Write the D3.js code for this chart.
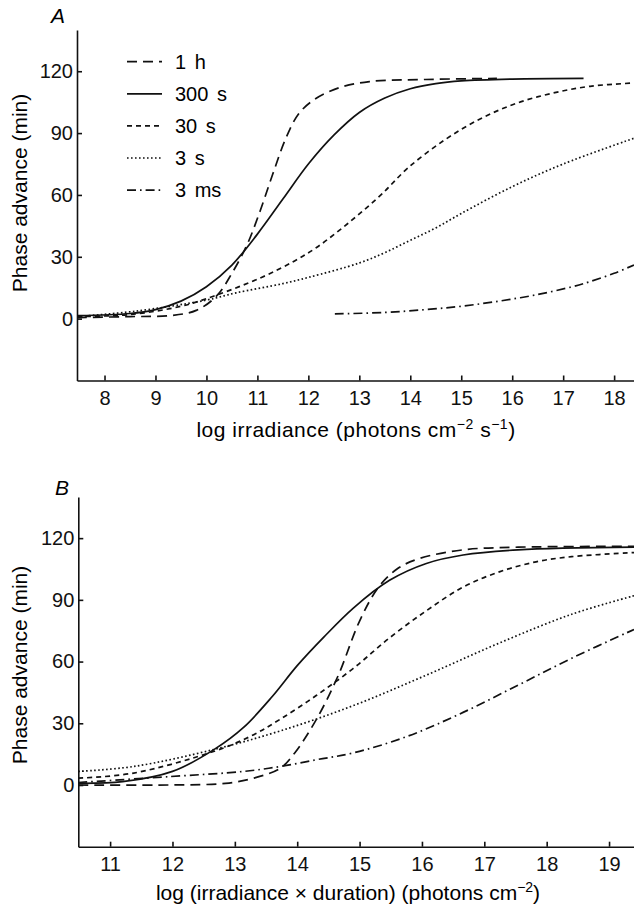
<!DOCTYPE html>
<html>
<head>
<meta charset="utf-8">
<script src="https://cdn.jsdelivr.net/npm/d3@7"></script>
<style>
  body { margin: 0; background: #fff; }
  svg { display: block; font-family: "Liberation Sans", Arial, sans-serif; }
  .axis text { font-size: 20px; fill: #111; }
  .axis path, .axis line { stroke: #111; stroke-width: 1.6; }
  .curve { fill: none; stroke: #111; stroke-width: 1.7; }
</style>
</head>
<body>
<div id="chart"></div>
<script>
// Panel A: phase advance vs log irradiance, [log irradiance, minutes]
const a1h = [[7.46, 0.5], [8.5, 1], [9.3, 1.5], [9.8, 4], [10.2, 11], [10.5, 22], [10.8, 36], [11.05, 52], [11.3, 70], [11.55, 87], [11.8, 99], [12.1, 106], [12.6, 112], [13.2, 115], [14.3, 116], [15.7, 116.5]];
const a300s = [[7.46, 1.5], [8.5, 2.5], [9, 4.4], [9.5, 8.5], [10, 15.5], [10.5, 26], [11, 41], [11.5, 58], [12, 75], [12.5, 89], [13, 100], [13.5, 107], [14, 111.5], [14.5, 114], [15, 115.3], [16, 116.2], [17.4, 116.5]];
const a30s = [[7.46, 1], [8.5, 2], [9.5, 6], [10.15, 11], [11.08, 20], [11.73, 28], [12.16, 34.5], [12.6, 42.7], [13, 50.8], [13.45, 60.6], [13.95, 73], [14.67, 86.6], [15.38, 97], [16.1, 104.6], [16.8, 109.4], [17.53, 112.7], [18.39, 114.3]];
const a3s = [[7.46, 1], [8.6, 3.6], [10, 9], [10.58, 12.5], [11.5, 17], [12, 20], [13, 27], [13.5, 32], [14, 38], [14.5, 44], [15, 51], [16, 64], [17, 75], [18.39, 87.5]];
const a3ms = [[12.52, 2.3], [13.5, 3], [14.3, 4.4], [15, 6], [15.74, 8.5], [16.46, 11.5], [17.18, 15.5], [17.53, 18], [18, 22], [18.39, 26]];

// Panel B: phase advance vs log (irradiance x duration)
const b1h = [[10.49, 0], [11.97, 0], [12.85, 0.8], [13.3, 3.3], [13.73, 8.2], [13.96, 15.6], [14.31, 32], [14.66, 53.4], [15, 79.7], [15.3, 96], [15.6, 105], [15.95, 110], [16.66, 114.3], [17.54, 115.6], [19.4, 116]];
const b300s = [[10.49, 0.8], [11.2, 1.6], [12, 6.6], [12.67, 17.3], [13.14, 28], [13.6, 43], [14, 58], [14.43, 72], [14.9, 86], [15.48, 99.5], [16.07, 107.7], [16.66, 111.8], [17.54, 114.3], [19.4, 115.6]];
const b30s = [[10.49, 3.3], [11.38, 5.8], [12.67, 16.4], [13.26, 23.8], [13.73, 32], [14.31, 43.6], [14.9, 56.7], [15.48, 71.5], [16.07, 84.7], [16.66, 96.2], [17.24, 103.6], [17.83, 108.5], [18.4, 111], [19.4, 113]];
const b3s = [[10.49, 6.6], [11.38, 9], [12.67, 17.3], [13.73, 26.3], [14.9, 38.6], [16.07, 53.4], [17.24, 69], [18.4, 83], [19.4, 92]];
const b3ms = [[10.49, 1.2], [11.97, 4.1], [13.14, 6.6], [13.73, 9], [14.31, 12.3], [14.9, 15.6], [15.78, 23.8], [16.66, 35.3], [17.54, 48.5], [18.4, 61.6], [19.4, 75.6]];

const legendLabels = ["1 h", "300 s", "30 s", "3 s", "3 ms"];
const yTicks = [0, 30, 60, 90, 120];
const xTicksA = [8, 9, 10, 11, 12, 13, 14, 15, 16, 17, 18];
const xTicksB = [11, 12, 13, 14, 15, 16, 17, 18, 19];

const dashes = ["10,6", null, "5,4", "1.6,2.4", "9,4,1.6,4"];

const svg = d3.select("#chart").append("svg").attr("width", 634).attr("height", 907);

function drawPanel(opts) {
  const x = d3.scaleLinear().domain(opts.xDomain).range(opts.xRange);
  const y = d3.scaleLinear().domain([-30, 140]).range(opts.yRange);
  const g = svg.append("g");

  g.append("g")
    .attr("class", "axis")
    .attr("transform", `translate(0,${opts.yRange[0]})`)
    .call(d3.axisBottom(x).tickValues(opts.xTicks).tickFormat(d3.format("d")).tickSizeInner(-5).tickSizeOuter(0).tickPadding(10));

  g.append("g")
    .attr("class", "axis")
    .attr("transform", `translate(${opts.xRange[0]},0)`)
    .call(d3.axisLeft(y).tickValues(yTicks).tickSizeInner(-5).tickSizeOuter(0).tickPadding(4));

  const line = d3.line()
    .x((d) => x(d[0]))
    .y((d) => y(d[1]))
    .curve(d3.curveCatmullRom.alpha(0.5));

  opts.series.forEach((s, i) => {
    g.append("path")
      .datum(s)
      .attr("class", "curve")
      .attr("d", line)
      .attr("stroke-dasharray", dashes[i]);
  });

  // axis titles and panel letter
  g.append("text")
    .attr("x", opts.titleX)
    .attr("y", opts.titleY)
    .attr("text-anchor", "middle")
    .style("font-size", "21px")
    .style("letter-spacing", opts.spacing)
    .html(opts.title);

  g.append("text")
    .attr("transform", `translate(27,${opts.yTitleY}) rotate(-90)`)
    .attr("text-anchor", "middle")
    .style("font-size", "21px")
    .text("Phase advance (min)");

  g.append("text")
    .attr("x", opts.letterX)
    .attr("y", opts.letterY)
    .attr("text-anchor", "middle")
    .style("font-size", "21px")
    .style("font-style", "italic")
    .text(opts.letter);

  return { x, y, g };
}

drawPanel({
  xDomain: [7.46, 18.39], xRange: [77, 634], yRange: [380.5, 30], xTicks: xTicksA,
  series: [a1h, a300s, a30s, a3s, a3ms],
  title: 'log irradiance (photons cm<tspan dy="-8" font-size="14">\u22122</tspan><tspan dy="8"> s</tspan><tspan dy="-8" font-size="14">\u22121</tspan><tspan dy="8">)</tspan>',
  spacing: "0.5px",
  titleX: 356, titleY: 437, yTitleY: 193, letter: "A", letterX: 58, letterY: 23
});

drawPanel({
  xDomain: [10.49, 19.4], xRange: [78.3, 634], yRange: [846.7, 497], xTicks: xTicksB,
  series: [b1h, b300s, b30s, b3s, b3ms],
  title: 'log (irradiance \u00d7 duration) (photons cm<tspan dy="-8" font-size="14">\u22122</tspan><tspan dy="8">)</tspan>',
  spacing: "0px",
  titleX: 348, titleY: 900, yTitleY: 665, letter: "B", letterX: 62, letterY: 495
});

// legend in panel A
const legend = svg.append("g")
  .selectAll("g")
  .data(legendLabels)
  .enter()
  .append("g")
  .attr("transform", (d, i) => `translate(0,${61.7 + i * 32.1})`);

legend.append("line")
  .attr("class", "curve")
  .attr("x1", 127).attr("x2", 162)
  .attr("y1", 0).attr("y2", 0)
  .attr("stroke-dasharray", (d, i) => dashes[i]);

legend.append("text")
  .attr("x", 175)
  .attr("y", 7)
  .style("font-size", "20px")
  .style("word-spacing", "3px")
  .text((d) => d);
</script>
</body>
</html>
